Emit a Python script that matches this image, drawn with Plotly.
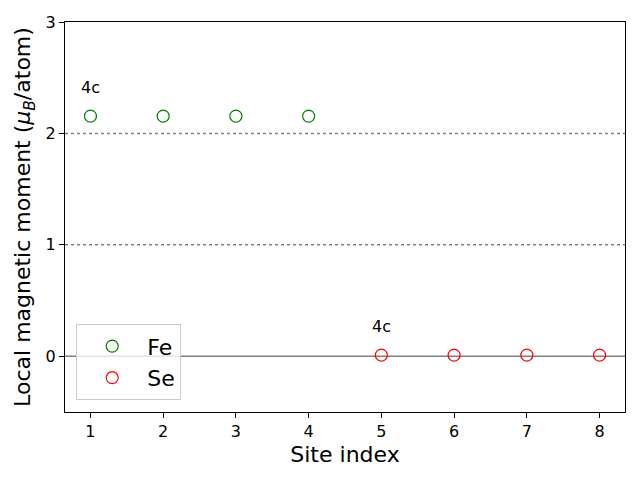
import plotly.graph_objects as go

fe_sites = [1, 2, 3, 4]
fe_moments = [2.155, 2.155, 2.155, 2.155]
se_sites = [5, 6, 7, 8]
se_moments = [0.01, 0.01, 0.01, 0.01]
wyckoff_labels = [(1, 2.155, "4c"), (5, 0.01, "4c")]
ref_lines_dotted = [1, 2]
ref_line_solid = 0
x_ticks = [1, 2, 3, 4, 5, 6, 7, 8]
y_ticks = [0, 1, 2, 3]

font = "DejaVu Sans"
fig = go.Figure()
fig.add_trace(go.Scatter(x=fe_sites, y=fe_moments, mode="markers", name="Fe",
                         marker=dict(symbol="circle-open", size=12, color="green", line=dict(width=1.2))))
fig.add_trace(go.Scatter(x=se_sites, y=se_moments, mode="markers", name="Se",
                         marker=dict(symbol="circle-open", size=12, color="red", line=dict(width=1.2))))

for yv in ref_lines_dotted:
    fig.add_shape(type="line", xref="paper", x0=0, x1=1, y0=yv, y1=yv,
                  line=dict(color="gray", width=1.5, dash="dot"), layer="below")
fig.add_shape(type="line", xref="paper", x0=0, x1=1, y0=ref_line_solid, y1=ref_line_solid,
              line=dict(color="gray", width=1.5), layer="below")

for xv, yv, txt in wyckoff_labels:
    fig.add_annotation(x=xv, y=yv + 0.2, text=txt, showarrow=False, yanchor="bottom",
                       xanchor="center", yshift=-5,
                       font=dict(size=16, color="black", family=font))

fig.update_layout(
    width=640, height=480,
    margin=dict(l=65, r=15, t=22, b=68),
    plot_bgcolor="white", paper_bgcolor="white",
    font=dict(family=font, color="black"),
    showlegend=True,
    legend=dict(x=0.02, y=0.03, xanchor="left", yanchor="bottom",
                bordercolor="#cccccc", borderwidth=1, bgcolor="rgba(255,255,255,0.8)",
                font=dict(size=22, family=font), itemwidth=60),
)
fig.update_xaxes(range=[0.65, 8.35], tickvals=x_ticks, showgrid=False, zeroline=False,
                 showline=True, linecolor="black", linewidth=1, mirror=True,
                 ticks="outside", ticklen=5, tickcolor="black", tickfont=dict(size=16),
                 title=dict(text="Site index", font=dict(size=22), standoff=6))
fig.update_yaxes(range=[-0.5, 3], tickvals=y_ticks, showgrid=False, zeroline=False,
                 showline=True, linecolor="black", linewidth=1, mirror=True,
                 ticks="outside", ticklen=5, tickcolor="black", tickfont=dict(size=16),
                 title=dict(text="Local magnetic moment (<i>μ</i><sub><i>B</i></sub>/atom)",
                            font=dict(size=22), standoff=8))
fig.write_html("out.html")
